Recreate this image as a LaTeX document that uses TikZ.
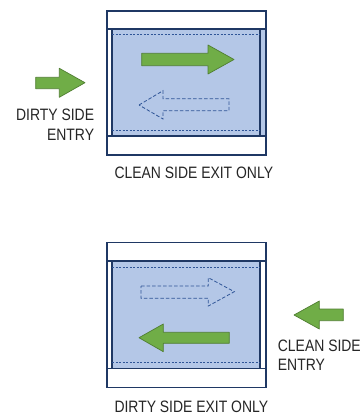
\documentclass[tikz,border=0pt]{standalone}
\usepackage{fontspec}
\setmainfont{Liberation Sans}[FakeStretch=0.845]
\definecolor{navy}{HTML}{1F3864}
\definecolor{paleblue}{HTML}{B4C7E7}
\definecolor{dashblue}{HTML}{2F5597}
\definecolor{leafgreen}{HTML}{70AD47}
\definecolor{leafedge}{HTML}{507E32}
\definecolor{inkgray}{HTML}{262626}

\begin{document}
\begin{tikzpicture}[x=1pt,y=-1pt,
  unit/.style={draw=navy,line width=1.3pt,fill=white},
  pane/.style={draw=navy,line width=1.6pt,fill=paleblue},
  seam/.style={draw=dashblue,line width=0.6pt,dash pattern=on 2pt off 1.5pt},
  flow/.style={draw=leafedge,line width=0.7pt,fill=leafgreen,line join=round},
  ghost/.style={draw=dashblue,line width=0.8pt,dash pattern=on 3.5pt off 2pt},
  label/.style={text=inkgray,inner sep=0pt,font=\fontsize{16.5}{20}\selectfont}]
  \useasboundingbox[fill=white] (0,0) rectangle (363,417);

  % upper pass-through: dirty side entry
  \draw[unit] (107,11) rectangle (266,155);
  \fill[paleblue] (260,29) rectangle (266,136);
  \draw[unit,fill=none] (107,11) rectangle (266,155);
  \draw[unit] (107,29) -- (266,29) (107,136) -- (266,136);
  \draw[pane] (112,29) rectangle (260,136);
  \draw[seam] (112,34.7) -- (260,34.7) (112,130) -- (260,130);
  \draw[flow] (141.7,53.3) -- (208,53.3) -- (208,45) -- (234,59.5) -- (208,74)
    -- (208,65.7) -- (141.7,65.7) -- cycle;
  \draw[ghost] (139,105) -- (163,90.7) -- (163,98.7) -- (229,98.7) -- (229,110.7)
    -- (163,110.7) -- (163,119) -- cycle;
  \draw[flow] (35.7,77.3) -- (59.3,77.3) -- (59.3,68.3) -- (85,82.7) -- (59.3,97.3)
    -- (59.3,88.7) -- (35.7,88.7) -- cycle;
  \node[label,anchor=base east] (dirtyin) at (94.3,120.5) {DIRTY SIDE};
  \node[label,anchor=base east] (dirtyin2) at (94.3,140.5) {ENTRY};
  \node[label,anchor=base west] (cleanout) at (114.3,178.3) {CLEAN SIDE EXIT ONLY};

  % lower pass-through: clean side entry
  \draw[unit] (107,242.3) rectangle (266,387.7);
  \draw[unit] (107,261) -- (266,261) (107,368.3) -- (266,368.3);
  \draw[pane] (112,261) rectangle (260,368.3);
  \draw[seam] (112,267.7) -- (260,267.7) (112,362.3) -- (260,362.3);
  \draw[ghost] (141,286) -- (208.3,286) -- (208.3,277.7) -- (234.3,291.7)
    -- (208.3,306) -- (208.3,298.3) -- (141,298.3) -- cycle;
  \draw[flow] (139,337.7) -- (163.3,324) -- (163.3,332.3) -- (229.3,332.3)
    -- (229.3,343.3) -- (163.3,343.3) -- (163.3,351.7) -- cycle;
  \draw[flow] (294,315) -- (319.3,301) -- (319.3,309) -- (343.3,309) -- (343.3,320.7)
    -- (319.3,320.7) -- (319.3,329) -- cycle;
  \node[label,anchor=base west] (cleanin) at (277.7,351) {CLEAN SIDE};
  \node[label,anchor=base west] (cleanin2) at (277.7,370.7) {ENTRY};
  \node[label,anchor=base west] (dirtyout) at (114.3,412.7) {DIRTY SIDE EXIT ONLY};
\end{tikzpicture}
\end{document}
